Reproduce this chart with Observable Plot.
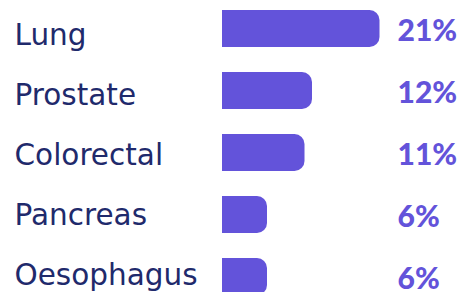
<!DOCTYPE html>
<html>
<head>
<meta charset="utf-8">
<script src="https://cdn.jsdelivr.net/npm/d3@7"></script>
<script src="https://cdn.jsdelivr.net/npm/@observablehq/plot@0.6"></script>
<style>
  html, body { margin: 0; padding: 0; background: #fff; overflow: hidden; }
  #chart { position: relative; width: 464px; height: 292px; }
  #chart svg { display: block; position: absolute; left: 0; top: 0; }
</style>
</head>
<body>
<div id="chart"></div>
<script>
const categories = ["Lung", "Prostate", "Colorectal", "Pancreas", "Oesophagus"];
const values = [21, 12, 11, 6, 6];
const valueLabels = ["21%", "12%", "11%", "6%", "6%"];

const data = categories.map((c, i) => ({cancer: c, value: values[i], label: valueLabels[i]}));

const purple = "#6353DA";
const navy = "#1F2A6C";
const maxV = d3.max(values);

// bars + value labels
const step = 62.75;
const pad = 0.4;
const y0 = 8.3 - pad * step;
const y1 = y0 + step * (categories.length - pad + 2 * pad);

const bars = Plot.plot({
  width: 464,
  height: 292,
  marginLeft: 0, marginRight: 0, marginTop: 0, marginBottom: 0,
  style: {fontFamily: "Lato, sans-serif", overflow: "hidden", background: "transparent"},
  x: {domain: [0, maxV], range: [222, 222 + 7.5 * maxV], axis: null},
  y: {domain: categories, range: [y0, y1], padding: pad, axis: null},
  marks: [
    Plot.barX(data, {y: "cancer", x1: 0, x2: "value", fill: purple, rx: 10}),
    Plot.barX(data, {y: "cancer", x1: 0, x2: d => Math.min(d.value, 2), fill: purple}),
    Plot.text(data, {y: "cancer", x: () => maxV, text: "label", dx: 17.5, dy: 12, lineAnchor: "bottom", textAnchor: "start", fill: purple, fontSize: 30, fontWeight: 900})
  ]
});

// category labels (own row spacing)
const labels = Plot.plot({
  width: 464,
  height: 292,
  marginLeft: 0, marginRight: 0, marginTop: 0, marginBottom: 0,
  style: {fontFamily: "'DejaVu Sans', sans-serif", overflow: "hidden", background: "transparent"},
  x: {axis: null},
  y: {type: "point", domain: categories, range: [42.3, 286], padding: 0, axis: null},
  marks: [
    Plot.text(data, {y: "cancer", text: "cancer", frameAnchor: "left", dx: 14, lineAnchor: "bottom", textAnchor: "start", fill: navy, fontSize: 29.5, fontWeight: 400})
  ]
});

const chartEl = document.getElementById("chart");
chartEl.append(bars);
chartEl.append(labels);
</script>
</body>
</html>
